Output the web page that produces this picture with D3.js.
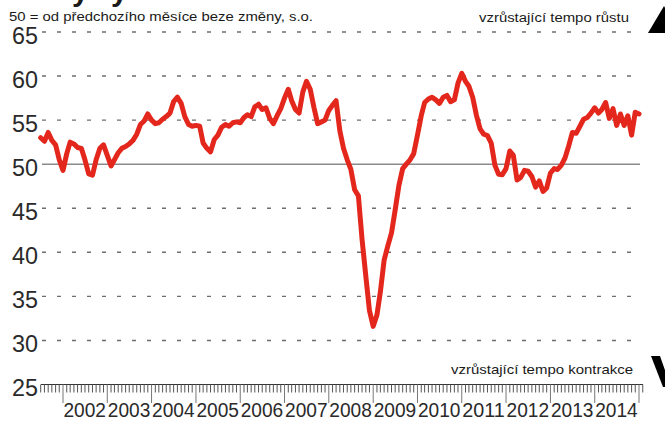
<!DOCTYPE html>
<html>
<head>
<meta charset="utf-8">
<script src="https://cdn.jsdelivr.net/npm/d3@7"></script>
<style>
  html, body { margin: 0; padding: 0; background: #fff; overflow: hidden; }
  svg { display: block; font-family: "Liberation Sans", Arial, sans-serif; }
</style>
</head>
<body>
<svg id="chart" width="665" height="421"></svg>
<script>
// ---- data ----
const startYear = 2001, startMonth = 6; // July 2001 (0-based month)
const values = [
  53.0, 52.6, 53.6, 52.7, 52.2, 50.5,
  49.3, 51.2, 52.5, 52.3, 51.9, 51.8, 50.5, 48.9, 48.75, 50.5, 51.8, 52.2,
  51.0, 49.8, 50.5, 51.3, 51.8, 52.0, 52.3, 52.7, 53.4, 54.5, 54.9, 55.7,
  55.0, 54.6, 54.7, 55.1, 55.4, 55.8, 57.1, 57.6, 56.9, 55.4, 54.5, 54.3,
  54.4, 54.3, 52.4, 51.8, 51.4, 52.8, 53.3, 54.2, 54.5, 54.3, 54.7, 54.8,
  54.7, 55.3, 55.6, 55.4, 56.5, 56.8, 56.2, 56.4, 55.2, 54.6, 55.5, 56.3,
  57.5, 58.5, 57.2, 56.2, 55.8, 58.2, 59.4, 58.5, 56.4, 54.6, 54.8, 55.0,
  56.1, 56.7, 57.2, 53.8, 51.8, 50.5, 49.4, 47.1, 46.4, 41.5, 37.3, 33.4,
  31.6, 32.9, 35.5, 39.1, 40.7, 42.2, 44.8, 47.6, 49.5, 50.0, 50.5, 51.2,
  53.3, 55.5, 57.0, 57.4, 57.6, 57.3, 56.9, 57.6, 57.8, 57.1, 57.3, 59.2,
  60.3, 59.4, 58.85, 57.6, 55.6, 54.0, 53.4, 53.25, 52.4, 49.9, 48.85, 48.8,
  49.5, 51.5, 51.0, 48.2, 48.5, 49.3, 49.2, 48.6, 47.4, 48.1, 46.9, 47.3,
  49.0, 49.5, 49.4, 49.9, 50.7, 52.1, 53.6, 53.5, 54.3, 55.1, 55.3, 55.8,
  56.4, 55.8, 56.2, 57.0, 55.2, 56.3, 54.4, 55.7, 54.4, 55.5, 53.3, 55.9,
  55.7
];
const yearLabels = ["2002","2003","2004","2005","2006","2007","2008","2009","2010","2011","2012","2013","2014"];
const yTicks = [25, 30, 35, 40, 45, 50, 55, 60, 65];
const subtitle = "50 = od předchozího měsíce beze změny, s.o.";
const upLabel = "vzrůstající tempo růstu";
const downLabel = "vzrůstající tempo kontrakce";

// ---- build ----
const data = values.map((v, i) => ({ date: new Date(startYear, startMonth + i, 1), value: v }));
const svg = d3.select("#chart");

const x = d3.scaleTime()
  .domain([new Date(2002, 0, 1), new Date(2015, 0, 1)])
  .range([63, 639]);
const y = d3.scaleLinear().domain([25, 65]).range([384.5, 32]);

const gridLeft = 42, gridRight = 640;

// gridlines
svg.append("g").selectAll("line")
  .data(yTicks.filter(t => t !== 25))
  .join("line")
  .attr("x1", gridLeft).attr("x2", gridRight)
  .attr("y1", d => y(d)).attr("y2", d => y(d))
  .attr("stroke", d => d === 50 ? "#8a8a8a" : "#6e6e6e")
  .attr("stroke-width", d => d === 50 ? 1.6 : 1.4)
  .attr("stroke-dasharray", d => d === 50 ? null : "4,11");

// y labels
svg.append("g").selectAll("text")
  .data(yTicks)
  .join("text")
  .attr("x", 38)
  .attr("y", d => y(d) + 11.5)
  .attr("text-anchor", "end")
  .attr("font-size", 23)
  .attr("fill", "#2a2a2a")
  .attr("textLength", 26)
  .attr("lengthAdjust", "spacingAndGlyphs")
  .text(d => d);

// x axis
const axisY = y(25);
const monthTicks = d3.timeMonth.range(new Date(2001, 6, 1), new Date(2015, 2, 1));
svg.append("line")
  .attr("x1", 41).attr("x2", 643)
  .attr("y1", axisY).attr("y2", axisY)
  .attr("stroke", "#333").attr("stroke-width", 1.2);
svg.append("g").selectAll("line")
  .data(monthTicks)
  .join("line")
  .attr("x1", d => x(d)).attr("x2", d => x(d))
  .attr("y1", axisY)
  .attr("y2", d => d.getMonth() === 0 ? 403 : axisY + 8)
  .attr("stroke", d => d.getMonth() === 0 ? "#777" : "#555")
  .attr("stroke-width", 1);

// year labels
svg.append("g").selectAll("text")
  .data(yearLabels)
  .join("text")
  .attr("x", d => x(new Date(+d, 0, 1)) + 0.5)
  .attr("y", 417)
  .attr("font-size", 20)
  .attr("fill", "#2a2a2a")
  .attr("textLength", 42.5)
  .attr("lengthAdjust", "spacingAndGlyphs")
  .text(d => d);

// annotation texts
svg.append("text").attr("x", 9).attr("y", 20.5)
  .attr("font-size", 12.5).attr("fill", "#1a1a1a")
  .attr("textLength", 304).attr("lengthAdjust", "spacingAndGlyphs")
  .text(subtitle);
svg.append("text").attr("x", 479).attr("y", 21.5)
  .attr("font-size", 12.5).attr("fill", "#1a1a1a")
  .attr("textLength", 150).attr("lengthAdjust", "spacingAndGlyphs")
  .text(upLabel);
svg.append("text").attr("x", 451).attr("y", 373.5)
  .attr("font-size", 13).attr("fill", "#1a1a1a")
  .attr("textLength", 182).attr("lengthAdjust", "spacingAndGlyphs")
  .text(downLabel);

// cut-off title descenders
svg.append("g").selectAll("text")
  .data(["y", "y"])
  .join("text")
  .attr("x", (d, i) => i === 0 ? 72 : 111)
  .attr("y", 1)
  .attr("font-size", 30).attr("font-weight", "bold").attr("fill", "#1a1a1a")
  .text(d => d);

// decorative arrows at right edge
svg.append("path").attr("d", "M648,33 L664,6 L680,33 Z").attr("fill", "#000");
svg.append("path").attr("d", "M651,356 L660,356 L667,376 L665,387 L663,387 Z").attr("fill", "#000");

// series line
const line = d3.line().x(d => x(d.date)).y(d => y(d.value)).curve(d3.curveLinear);
svg.append("path")
  .datum(data)
  .attr("d", line)
  .attr("fill", "none")
  .attr("stroke", "#e4271c")
  .attr("stroke-width", 5)
  .attr("stroke-linejoin", "round")
  .attr("stroke-linecap", "round");
</script>
</body>
</html>
